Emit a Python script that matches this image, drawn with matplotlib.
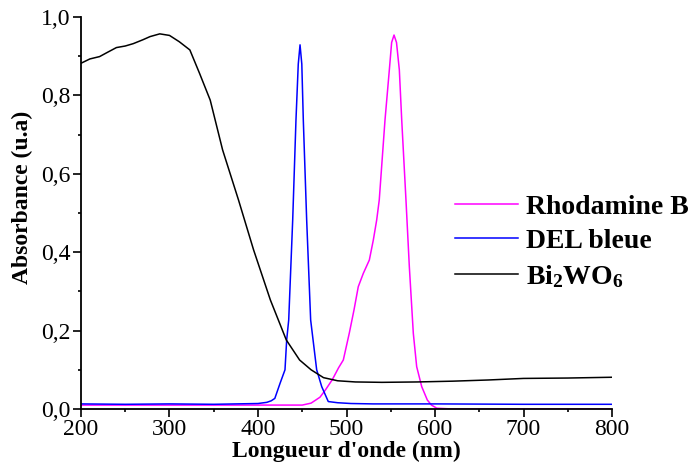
import matplotlib
matplotlib.use("Agg")
import matplotlib.pyplot as plt
from matplotlib.ticker import MultipleLocator

plt.rcParams["font.family"] = "Liberation Serif"
plt.rcParams["mathtext.fontset"] = "custom"
plt.rcParams["mathtext.rm"] = "Liberation Serif"
plt.rcParams["mathtext.bf"] = "Liberation Serif:bold"

# Bi2WO6 absorbance
wl_bi = [200, 210, 221, 230, 240, 250, 259, 270, 278, 289, 300, 311, 323, 334,
         346, 360, 378, 395, 414, 432, 447, 460, 474, 490, 510, 540, 580, 620,
         660, 700, 750, 800]
abs_bi = [0.882, 0.893, 0.899, 0.910, 0.922, 0.926, 0.932, 0.942, 0.950, 0.957,
          0.953, 0.937, 0.916, 0.856, 0.788, 0.661, 0.533, 0.406, 0.278, 0.176,
          0.125, 0.100, 0.080, 0.072, 0.069, 0.068, 0.069, 0.071, 0.074, 0.078,
          0.079, 0.081]

# blue LED emission
wl_del = [200, 250, 300, 350, 400, 410, 415, 419, 425, 430.5, 432.4, 434.7,
          439.2, 442.9, 445.5, 447.5, 449.5, 451.2, 455, 459.5, 466.3, 472,
          479.4, 490, 505, 530, 600, 700, 800]
abs_del = [0.013, 0.012, 0.013, 0.012, 0.014, 0.017, 0.021, 0.027, 0.066, 0.100,
           0.176, 0.227, 0.482, 0.737, 0.880, 0.929, 0.880, 0.737, 0.482, 0.227,
           0.100, 0.057, 0.019, 0.016, 0.014, 0.013, 0.013, 0.012, 0.012]

# Rhodamine B absorbance
wl_rhb = [200, 300, 400, 450, 460, 470, 476, 484, 491, 496.4, 503.2, 508.5,
          513.3, 519, 525.8, 530.3, 534.1, 537, 543.5, 548.4, 551, 553.7, 556.5,
          559.7, 562.4, 567.2, 571, 575.5, 579.3, 585, 591.3, 596, 602, 620,
          700, 800]
abs_rhb = [0.010, 0.010, 0.010, 0.010, 0.015, 0.030, 0.048, 0.075, 0.105, 0.125,
           0.194, 0.253, 0.312, 0.346, 0.380, 0.431, 0.482, 0.533, 0.737, 0.865,
           0.935, 0.954, 0.935, 0.865, 0.737, 0.533, 0.363, 0.193, 0.108, 0.057,
           0.023, 0.010, 0.002, 0.0, 0.0, 0.0]

xticks = [200, 300, 400, 500, 600, 700, 800]
yticks = [0.0, 0.2, 0.4, 0.6, 0.8, 1.0]
ytick_labels = ["0,0", "0,2", "0,4", "0,6", "0,8", "1,0"]

fig = plt.figure(figsize=(6.91, 4.70), dpi=100)
ax = fig.add_axes([81 / 691, 1 - 409 / 470, 531 / 691, 392 / 470])

ax.plot(wl_rhb, abs_rhb, color="#ff00ff", lw=1.1, label="Rhodamine B")
ax.plot(wl_del, abs_del, color="#0000ff", lw=1.1, label="DEL bleue")
ax.plot(wl_bi, abs_bi, color="black", lw=1.1, label=r"$\mathbf{Bi_2WO_6}$")

ax.set_xlim(200, 800)
ax.set_ylim(0, 1.0)
ax.set_xticks(xticks)
ax.set_yticks(yticks)
ax.set_yticklabels(ytick_labels)
ax.xaxis.set_minor_locator(MultipleLocator(50))
ax.yaxis.set_minor_locator(MultipleLocator(0.1))

for side in ["top", "right"]:
    ax.spines[side].set_visible(False)
for side in ["left", "bottom"]:
    ax.spines[side].set_linewidth(1.3)

ax.tick_params(which="major", direction="out", length=5.5, width=1.2,
               labelsize=17, pad=2)
ax.tick_params(which="minor", direction="out", length=2.5, width=1.2)

ax.set_xlabel("Longueur d'onde (nm)", fontsize=17, fontweight="bold", labelpad=0)
ax.set_ylabel("Absorbance (u.a)", fontsize=17, fontweight="bold")
ax.yaxis.set_label_coords(-0.09, 0.54)

ax.legend(loc="center left", bbox_to_anchor=(455 / 691, 1 - 242 / 470),
          bbox_transform=fig.transFigure, frameon=False, borderpad=0,
          borderaxespad=0, handlelength=2.27, handletextpad=0.29,
          labelspacing=0.32, prop={"weight": "bold", "size": 20})

fig.savefig("out.png", dpi=100)
